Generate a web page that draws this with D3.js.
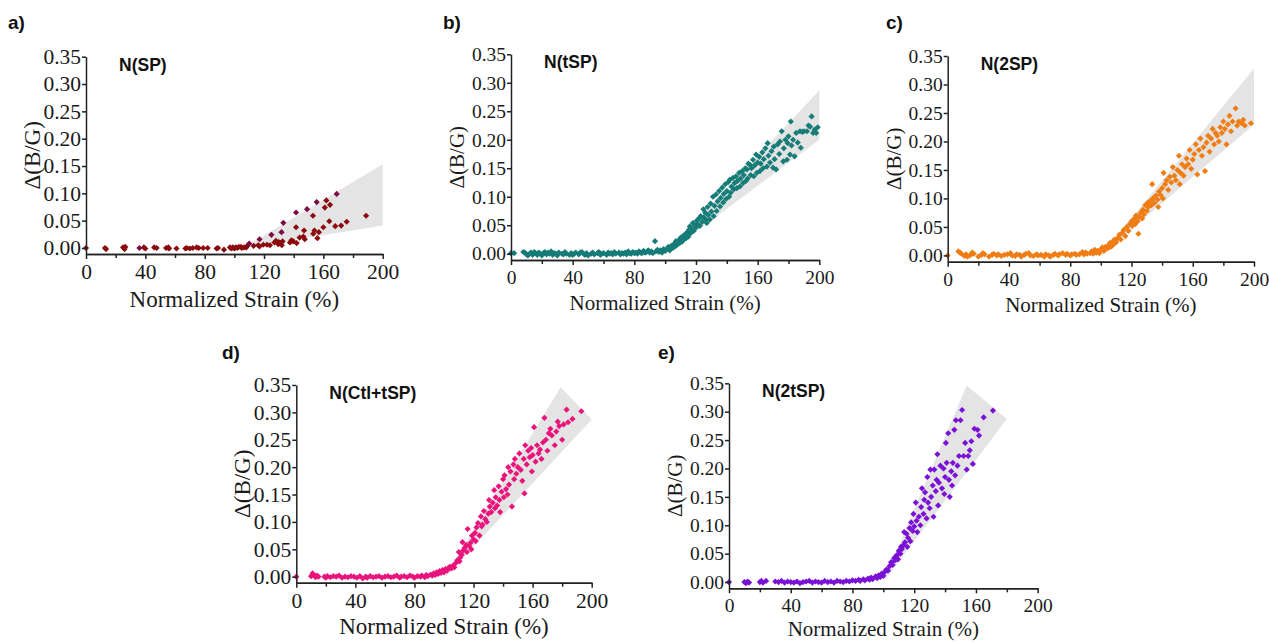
<!DOCTYPE html>
<html>
<head>
<meta charset="utf-8">
<script src="https://cdn.jsdelivr.net/npm/d3@7"></script>
<style>
  html, body { margin: 0; padding: 0; background: #fff; }
  .tick text { font-family: "Liberation Serif", "Times New Roman", serif; fill: #1a1a1a; }
  .axis path, .axis line { stroke: #222; stroke-width: 1.5px; }
  .axisTitle { font-family: "Liberation Serif", "Times New Roman", serif; fill: #1a1a1a; }
  .panelLabel, .seriesLabel { font-family: "Liberation Sans", Arial, sans-serif; font-weight: bold; fill: #111; }
</style>
</head>
<body>
<svg id="chart" width="1269" height="643"></svg>
<script>
"use strict";

// tick values shared by every panel
const xTicks = [0, 40, 80, 120, 160, 200];
const xMinorTicks = [20, 60, 100, 140, 180];
const yTicks = [0, 0.05, 0.10, 0.15, 0.20, 0.25, 0.30, 0.35];

// a) N(SP): [normalized strain %, delta(B/G)]
const pointsSP = [
  [0,0],[12.8,0],[13.5,-0.002],[25,0.001],[26,-0.002],[26.5,0.002],[39,0.001],[40,-0.001],
  [46,0.001],[47.6,0],[54,0],[55.5,0.001],[56,-0.001],[61,-0.001],[67,-0.001],[68,0],[70,-0.001],
  [72,0],[74.6,0.001],[76,0],[79,0],[82,0],[88,-0.001],[89,0],[93,-0.003],[97,0.001],[98,-0.001],
  [99,0.001],[100,-0.001],[101,0.001],[102,0],[103,0.002],[104.5,0.002],[105,0],[106.5,0.001],
  [108,0.001],[108.5,0.003],[113,0.004],[116,0.005],[117,0.003],[119.5,0.006],[122,0.006],
  [124,0.005],[127,0.010],[128,0.013],[129.6,0.007],[130,0.011],[131,0.009],[132,0.005],
  [132.5,0.012],[137.5,0.010],[138.5,0.014],[139.8,0.012],[141.6,0.038],[142,0.009],[144,0.019],
  [146.5,0.021],[147,0.032],[147.5,0.016],[153,0.059],[153.2,0.026],[154,0.032],[156,0.018],
  [157,0.029],[160,0.038],[161,0.074],[162,0.087],[164,0.049],[164.5,0.079],[168,0.040],
  [172,0.041],[175.7,0.048],[188.8,0.059]
];
const pointsSPalt = [
  [36,0],[110,0.008],[117,0.016],[125,0.024],[131.8,0.029],[133,0.046],[141.6,0.065],
  [149,0.071],[155.5,0.084],[169,0.099]
];
const bandSP = [[106, 0], [200, 0.153], [200, 0.041]];

// b) N(tSP)
const pointsTSP = [
  [0,0.001],[2,0.001],[8,0.003],[9,0.002],[10,-0.001],[11,-0.003],[12,0],[13,0.002],[14,-0.002],
  [15,0.003],[16,0.001],[17,-0.002],[18,0.002],[19,0],[20,-0.003],[21,0.001],[22,0.003],[23,-0.001],
  [24,0.002],[25,0],[26,0.004],[27,-0.002],[28,0.001],[29,0],[30,-0.003],[31,0.002],[33,0],
  [34,-0.001],[35,0.003],[36,0],[38,-0.002],[39,0.001],[40,-0.002],[41,0],[42,0.002],[44,-0.001],
  [45,0.002],[46,0.003],[47,0],[48,-0.002],[49,0.001],[50,-0.003],[52,0],[53,0.002],[54,-0.001],
  [56,0.001],[57,0.003],[58,-0.002],[59,0],[60,0.001],[62,-0.002],[63,0.002],[64,0],[65,0.001],
  [66,-0.001],[67,0.003],[68,0],[70,0.002],[71,-0.001],[72,0.001],[73,0],[74,0.002],[75,-0.001],
  [76,0.004],[77,0.001],[78,0],[79,0.003],[80,0.001],[81,0.002],[82,0],[83,0.004],[84,0.002],
  [85,0.001],[86,0.005],[87,0.002],[88,0.003],[89,0.006],[90,0.002],[91,0.004],[92,0.001],
  [93.4,0.022],[94,0.004],[95,0.007],[96,0.003],[97,0.006],[98,0.002],[99,0.008],[100,0.005],
  [101,0.008],[102,0.012],[103,0.006],[104,0.014],[105,0.010],[106,0.018],[106.5,0.013],[107,0.022],
  [108,0.016],[109,0.024],[109.5,0.019],[110,0.028],[111,0.021],[111.5,0.031],[112,0.025],[113,0.034],
  [113.5,0.027],[114,0.037],[115,0.030],[115.5,0.042],
  [116,0.048],[116.5,0.036],[117,0.044],[118,0.054],[118.5,0.040],[119,0.050],[120,0.046],
  [120.5,0.058],[121,0.052],[122,0.062],[122.5,0.049],[123,0.066],[124,0.056],[124.8,0.078],
  [125,0.064],[126,0.072],[126.5,0.060],[127,0.054],[127.5,0.082],[128,0.068],[129,0.060],
  [129.5,0.088],[130,0.074],
  [131,0.100],[131.5,0.066],[132,0.084],[133,0.104],[133.4,0.075],[134,0.092],[135,0.110],
  [135.6,0.083],[136,0.098],[137,0.116],[137.7,0.090],[138,0.105],[139,0.122],[139.5,0.096],
  [140,0.110],[141,0.126],[141.5,0.100],[142,0.130],[142.5,0.107],[143,0.118],[144,0.133],
  [144.5,0.113],[145,0.124],
  [146,0.136],[146.5,0.115],[147,0.128],[148,0.142],[148.5,0.118],[149,0.132],[150,0.145],
  [150.5,0.124],[151,0.138],[152,0.150],[152.5,0.128],[153,0.148],[153.5,0.132],[154,0.158],
  [155,0.156],[155.5,0.138],[156,0.150],[157,0.165],[157.5,0.136],[158,0.155],[159,0.174],
  [159.5,0.142],[160,0.160],
  [161,0.170],[161.5,0.145],[162,0.158],[163,0.178],[163.5,0.150],[164,0.166],[165,0.185],
  [166,0.153],[166.5,0.194],[167,0.172],[168,0.160],[169,0.180],[170,0.151],[170.5,0.188],
  [171,0.166],[172,0.148],[173,0.192],[174,0.175],[174.5,0.197],[175.6,0.215],[176.6,0.162],
  [177,0.185],[178,0.200],[179,0.165],[179.5,0.194],[180,0.206],
  [181,0.174],[181.5,0.232],[182,0.190],[183,0.200],[184,0.171],[185,0.212],[186,0.195],
  [187.5,0.215],[188,0.186],[189,0.214],[190,0.215],[192,0.215],[193,0.225],[194,0.223],
  [195,0.241],[196,0.212],[197,0.218],[198,0.212],[199,0.222]
];
const bandTSP = [[100, -0.002], [200, 0.287], [200, 0.200]];

// c) N(2SP)
const points2SP = [
  [0,0],[7,0.007],[8,0.005],[9,0.003],[11,-0.001],[12,0.002],[13,-0.002],[15,0.001],[16,0.005],
  [17,0.003],[20,-0.002],[22,0.001],[23,0.004],[24,0.002],[27,-0.002],[29,0.001],[30,0.003],[32,0],
  [33,0.002],[35,-0.001],[37,0.001],[39,0.002],[41,0.004],[42,0],[44,-0.001],[45,0.002],[47,0.001],
  [48,-0.002],[50,0.001],[51,0.003],[53,0.004],[54,0],[56,-0.001],[58,0.002],[59,0],[61,0.001],
  [63,-0.002],[64,0.002],[66,0],[67,-0.002],[69,0.001],[70,0.003],[72,0],[73,0.002],[75,0.004],
  [77,0.001],[78,0.003],[80,0],[81,0.002],[83,0.003],[84,0.001],[86,0.002],[88,0.006],[89,0.002],
  [90,0.005],[91,0.003],[93,0.004],[94,0.007],[95,0.003],[96,0.010],[97,0.005],[98,0.008],[99,0.004],
  [100,0.010],[101,0.014],[102,0.008],[103,0.015],[104,0.012],[105,0.018],[105.5,0.014],[106,0.022],
  [107,0.016],[108,0.025],[108.5,0.020],[109,0.028],[110,0.023],[111,0.030],[112,0.036],[113,0.028],
  [114,0.040],[115,0.045],[116,0.034],[117,0.050],[118,0.043],[119,0.055],[120,0.060],[120.5,0.052],
  [121,0.058],[122,0.065],[122.5,0.055],[123,0.070],[124,0.060],[124.5,0.038],[125,0.068],
  [126,0.075],[127,0.065],[127.5,0.080],[128,0.072],[129,0.088],[130,0.078],[130.5,0.092],
  [131,0.085],[132,0.095],[133,0.088],[133.5,0.125],[134,0.100],[135,0.092],[136,0.105],
  [137,0.098],[137.5,0.085],[138,0.112],[139,0.106],[140,0.118],[140.5,0.100],[141,0.145],
  [142,0.125],[143,0.132],[144,0.115],[145,0.138],[146,0.128],[147,0.155],[148,0.140],[149,0.132],
  [150,0.150],[151,0.175],[151.5,0.125],[152,0.145],[153,0.160],[154,0.140],[155,0.155],[156,0.170],
  [157,0.160],[158,0.185],[159,0.152],[160,0.168],[161,0.178],[162,0.195],[163,0.142],[164,0.185],
  [165,0.205],[166,0.175],[167,0.190],[168,0.148],[169,0.198],[170,0.210],[171,0.182],[172,0.205],
  [173,0.222],[174,0.195],[175,0.215],[176,0.210],[177,0.200],[178,0.225],[179,0.215],[180,0.235],
  [181,0.222],[182,0.195],[183,0.230],[184,0.245],[185,0.218],[186,0.235],[188,0.258],[189,0.228],
  [190,0.235],[192,0.232],[193,0.238],[194,0.228],[198,0.232]
];
const band2SP = [[100, 0], [200, 0.328], [200, 0.230]];

// d) N(Ctl+tSP)
const pointsCtlTSP = [
  [0,0],[10,0.001],[11,0.006],[12,0.003],[13,-0.001],[14,0.002],[15,0],[19,0],[20,-0.002],[21,0.001],
  [23,-0.001],[25,0.001],[27,0],[29,0.002],[31,-0.002],[33,0],[35,-0.001],[37,0.001],[39,0],
  [41,-0.002],[43,0.001],[45,-0.003],[47,0],[48,-0.002],[50,0.001],[52,-0.001],[54,0],[56,0.001],
  [58,-0.002],[60,0],[62,0.001],[64,-0.001],[66,0],[68,0.002],[70,-0.002],[71,0],[73,0.001],
  [75,-0.001],[77,0.002],[79,0],[80,-0.002],[82,0.001],[84,0],[85,0.002],[87,-0.001],[88,0.003],
  [89,0.001],[91,0.004],[92,0.002],[93,0.006],[94,0.003],[95,0.008],[96,0.005],[97,0.010],
  [98,0.007],[99,0.012],[100,0.008],[101,0.014],[102,0.011],[103,0.016],[104,0.018],[105,0.015],
  [106,0.020],[107,0.017],[108,0.025],[109,0.030],[110,0.045],[110.5,0.028],[111,0.035],[112,0.040],
  [112.5,0.063],[113,0.048],[114,0.053],[115,0.058],[115.5,0.045],[116,0.087],[117,0.056],[118,0.062],
  [118.5,0.050],[119,0.075],[120,0.068],[121,0.080],[121.5,0.065],[122,0.090],[123,0.098],[124,0.075],
  [125,0.110],[125.5,0.092],[126,0.095],[127,0.120],[128,0.105],[129,0.100],[130,0.115],[130.5,0.140],
  [131,0.128],[132,0.118],[133,0.135],[134,0.158],[134.5,0.125],[135,0.145],[136,0.130],[137,0.165],
  [137.5,0.140],[138,0.118],[139,0.155],[140,0.178],[140.5,0.145],[141,0.185],[142,0.160],[143,0.150],
  [143.5,0.200],[144,0.168],[145,0.192],[146,0.128],[147,0.205],[147.5,0.178],[148,0.215],[149,0.188],
  [150,0.200],[151,0.225],[152,0.195],[153,0.175],[154,0.215],[154.5,0.152],[155,0.240],[156,0.205],
  [157,0.230],[158,0.218],[159,0.235],[159.5,0.192],[160,0.222],[161,0.273],[162,0.210],[163,0.240],
  [164,0.225],[165,0.232],[166,0.215],[167,0.245],[168,0.290],[169,0.250],[170,0.230],[171,0.262],
  [172,0.270],[173,0.258],[175,0.240],[176,0.265],[177,0.283],[178,0.275],[180,0.250],[181,0.278],
  [183,0.305],[184,0.282],[187,0.288],[193,0.302]
];
const bandCtlTSP = [[99.5, -0.005], [179, 0.346], [200, 0.287]];

// e) N(2tSP)
const points2tSP = [
  [0,0],[10,0],[11,-0.002],[12,0.001],[13,-0.001],[20,0],[21,0.002],[22,-0.001],[24,0.002],[30,0.001],
  [32,0],[34,0.002],[36,-0.001],[38,0.001],[40,0],[42,-0.001],[44,0.001],[46,-0.002],[48,0],[50,0.001],
  [52,0.002],[54,-0.001],[56,0.001],[58,0],[60,-0.001],[62,0.002],[64,0],[66,0.001],[68,-0.001],
  [70,0.002],[72,0.001],[74,0],[76,0.002],[78,0.001],[80,0.003],[82,0.002],[84,0.004],[85,0.002],
  [87,0.005],[88,0.003],[90,0.006],[91,0.004],[92,0.008],[93,0.005],[95,0.010],[96,0.007],[97,0.012],
  [98,0.009],[99,0.015],[100,0.011],[101,0.018],[102,0.022],[103,0.020],[104,0.028],[105,0.035],
  [106,0.030],[107,0.042],[107.5,0.038],[108,0.045],[109,0.048],[109.5,0.040],[110,0.055],[111,0.050],
  [111.5,0.062],[112,0.058],[113,0.065],[113.5,0.088],[114,0.070],[115,0.085],[115.5,0.062],[116,0.078],
  [117,0.095],[117.5,0.072],[118,0.105],[119,0.090],[119.5,0.120],[120,0.098],[121,0.140],[121.5,0.108],
  [122,0.088],[123,0.115],[124,0.100],[124.5,0.132],[125,0.165],[126,0.120],[126.5,0.145],[127,0.158],
  [128,0.112],[128.5,0.185],[129,0.140],[130,0.130],[130.5,0.198],[131,0.150],[132,0.170],[132.5,0.115],
  [133,0.198],[134,0.160],[134.5,0.180],[135,0.225],[135.5,0.135],[136,0.175],[137,0.205],[138,0.165],
  [139,0.200],[139.5,0.155],[140,0.185],[140.5,0.245],[141,0.210],[142,0.262],[142.5,0.180],[143,0.150],
  [144,0.195],[144.5,0.170],[145,0.210],[146,0.268],[146.5,0.188],[147,0.285],[148,0.205],[149,0.222],
  [150,0.285],[151,0.303],[152,0.222],[153,0.245],[154,0.198],[155,0.222],[156,0.232],[157,0.248],
  [158,0.208],[159,0.270],[161,0.268],[162,0.258],[165,0.290],[171,0.302]
];
const band2tSP = [[100, 0], [154, 0.346], [180, 0.287]];

// panel layout (pixel frame of each plot)
const panels = [
  { label: "a)", name: "N(SP)", pts: pointsSP, alt: pointsSPalt, band: bandSP, color: "#8b0a0e", altColor: "#7a0b45",
    x0: 86, x1: 382.7, yTop: 56.7, yBot: 254, labelX: 8, labelY: 29, tickFont: 21.5, titleFont: 23, titleDy: 53 },
  { label: "b)", name: "N(tSP)", pts: pointsTSP, band: bandTSP, color: "#167c78",
    x0: 511, x1: 819.3, yTop: 54.3, yBot: 260, labelX: 443, labelY: 29, tickFont: 19.5, titleFont: 21, titleDy: 50 },
  { label: "c)", name: "N(2SP)", pts: points2SP, band: band2SP, color: "#f07d14",
    x0: 947.7, x1: 1254, yTop: 56, yBot: 261.7, labelX: 886, labelY: 29, tickFont: 19.5, titleFont: 21, titleDy: 50 },
  { label: "d)", name: "N(Ctl+tSP)", pts: pointsCtlTSP, band: bandCtlTSP, color: "#ea137c",
    x0: 296.3, x1: 591.7, yTop: 385, yBot: 582.7, labelX: 222, labelY: 359, tickFont: 21.5, titleFont: 23, titleDy: 51 },
  { label: "e)", name: "N(2tSP)", pts: points2tSP, band: band2tSP, color: "#7a10d6",
    x0: 729, x1: 1037.7, yTop: 383.3, yBot: 588.3, labelX: 658, labelY: 359, tickFont: 19.5, titleFont: 21, titleDy: 48 }
];

const svg = d3.select("#chart");
svg.append("rect").attr("width", 1269).attr("height", 643).attr("fill", "#fff");

const marker = d3.symbol().type(d3.symbolSquare).size(19);

panels.forEach(p => {
  const x = d3.scaleLinear().domain([0, 200]).range([p.x0, p.x1]);
  const y = d3.scaleLinear().domain([-0.011, 0.35]).range([p.yBot, p.yTop]);
  const g = svg.append("g");

  // confidence band
  g.append("path")
    .attr("d", d3.line().x(d => x(d[0])).y(d => y(d[1]))(p.band) + "Z")
    .attr("fill", "#e4e4e4");

  const drawPoints = (data, color) => {
    g.append("g").selectAll("path")
      .data(data)
      .enter()
      .append("path")
      .attr("d", marker)
      .attr("transform", d => `translate(${x(d[0])},${y(d[1])}) rotate(45)`)
      .attr("fill", color);
  };
  drawPoints(p.pts, p.color);
  if (p.alt) drawPoints(p.alt, p.altColor);

  // axes
  g.append("g")
    .attr("class", "axis")
    .attr("transform", `translate(0,${p.yBot})`)
    .call(d3.axisBottom(x).tickValues(xMinorTicks).tickFormat("").tickSize(4).tickSizeOuter(0));
  g.append("g")
    .attr("class", "axis")
    .attr("transform", `translate(0,${p.yBot})`)
    .call(d3.axisBottom(x).tickValues(xTicks).tickFormat(d3.format("d")).tickSize(5).tickPadding(5).tickSizeOuter(0))
    .selectAll("text").style("font-size", p.tickFont + "px");
  g.append("g")
    .attr("class", "axis")
    .attr("transform", `translate(${p.x0},0)`)
    .call(d3.axisLeft(y).tickValues(yTicks).tickFormat(d3.format(".2f")).tickSize(4).tickPadding(1).tickSizeOuter(0))
    .selectAll("text").style("font-size", p.tickFont + "px");
  g.selectAll(".axis .domain").attr("stroke", "#222");

  // titles
  g.append("text")
    .attr("class", "axisTitle")
    .attr("x", (p.x0 + p.x1) / 2)
    .attr("y", p.yBot + p.titleDy)
    .attr("text-anchor", "middle")
    .style("font-size", p.titleFont + "px")
    .text("Normalized Strain (%)");
  g.append("text")
    .attr("class", "axisTitle")
    .attr("transform", `translate(${p.x0 - 54},${(p.yTop + p.yBot) / 2}) rotate(-90)`)
    .attr("text-anchor", "middle")
    .attr("dy", "0.35em")
    .style("font-size", p.titleFont + "px")
    .text("Δ(B/G)");
  g.append("text")
    .attr("class", "seriesLabel")
    .attr("x", p.x0 + 33)
    .attr("y", p.yTop + 14)
    .style("font-size", "17.5px")
    .text(p.name);
  g.append("text")
    .attr("class", "panelLabel")
    .attr("x", p.labelX)
    .attr("y", p.labelY)
    .style("font-size", "19px")
    .text(p.label);
});
</script>
</body>
</html>
